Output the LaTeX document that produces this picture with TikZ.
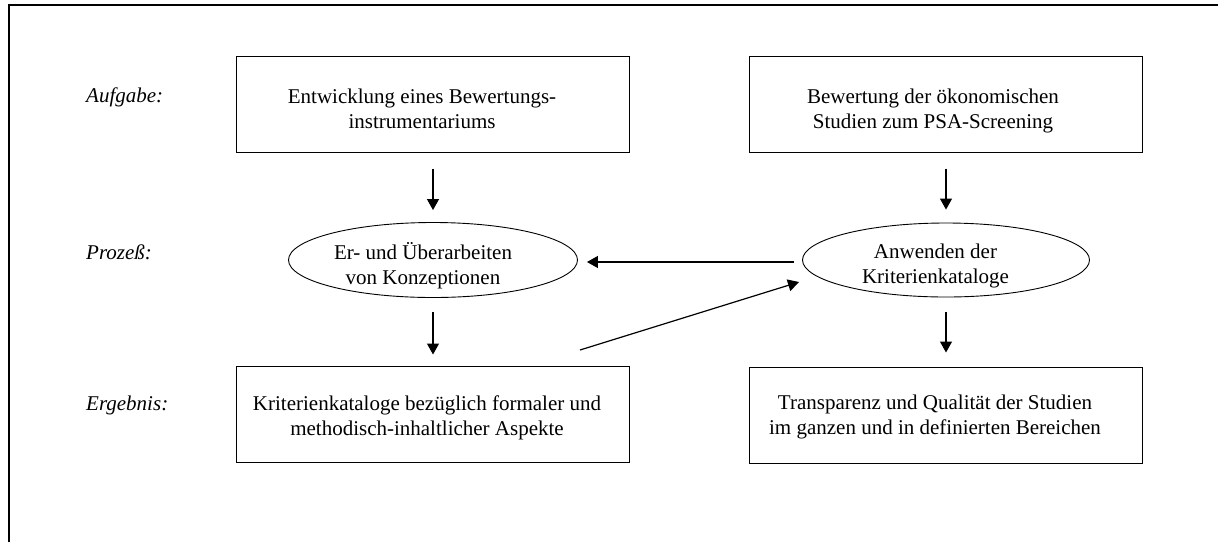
\documentclass[tikz,border=0pt]{standalone}
\usepackage{fontspec}
\setmainfont{Liberation Serif}
\usetikzlibrary{arrows.meta,shapes.geometric}
\begin{document}
\begin{tikzpicture}[x=1pt,y=-1pt,
  boxnode/.style={draw,line width=1pt,minimum width=393pt,minimum height=96pt,inner sep=0pt},
  ellnode/.style={draw,ellipse,line width=0.9pt,minimum width=289pt,minimum height=75pt,inner sep=0pt},
  txt/.style={font=\fontsize{21}{25}\selectfont,align=center,anchor=base,inner sep=0pt},
  lbl/.style={font=\fontsize{21}{25}\selectfont\itshape,anchor=base west,inner sep=0pt},
  arr/.style={line width=1.2pt,-{Triangle[length=11pt,width=12pt]}},
]
\useasboundingbox (0,0) rectangle (1218,542);
\draw[line width=2.5pt] (9,542) -- (9,5) -- (1218,5);

% row labels
\node[lbl] (laufgabe) at (86,102) {Aufgabe:};
\node[lbl] (lprozess) at (86,259) {Prozeß:};
\node[lbl] (lergebnis) at (86,410) {Ergebnis:};

% boxes and ellipses
\node[boxnode] (box1) at (433,104) {};
\node[boxnode] (box2) at (946,104) {};
\node[ellnode] (ell1) at (433,260) {};
\node[ellnode,minimum width=287pt,minimum height=74pt] (ell2) at (946,260) {};
\node[boxnode] (box3) at (433,414) {};
\node[boxnode] (box4) at (946,415) {};

% texts (base anchor = baseline of the last line)
\node[txt] (t1) at (422,128) {Entwicklung eines Bewertungs-\\instrumentariums};
\node[txt] (t2) at (933,128.5) {Bewertung der ökonomischen\\Studien zum PSA-Screening};
\node[txt] (te1) at (423,284) {Er- und Überarbeiten\\von Konzeptionen};
\node[txt] (te2) at (935.5,283.5) {Anwenden der\\Kriterienkataloge};
\node[txt] (t3) at (427,435) {Kriterienkataloge bezüglich formaler und\\methodisch-inhaltlicher Aspekte};
\node[txt] (t4) at (935,434.5) {Transparenz und Qualität der Studien\\im ganzen und in definierten Bereichen};

% connectors
\draw[arr,shorten <=16pt,shorten >=12pt] (box1.south) -- (ell1.north);
\draw[arr,shorten <=14pt,shorten >=11pt] (ell1.south) -- (box3.north);
\draw[arr,shorten <=16pt,shorten >=13pt] (box2.south) -- (ell2.north);
\draw[arr,shorten <=15pt,shorten >=14pt] (ell2.south) -- (box4.north);
\draw[arr,shorten <=8pt,shorten >=9pt] ([yshift=-2pt]ell2.west) -- ([yshift=-2pt]ell1.east);
\coordinate (dstart) at (580,350);
\coordinate (dend) at (799,282);
\draw[arr] (dstart) -- (dend);
\end{tikzpicture}
\end{document}
